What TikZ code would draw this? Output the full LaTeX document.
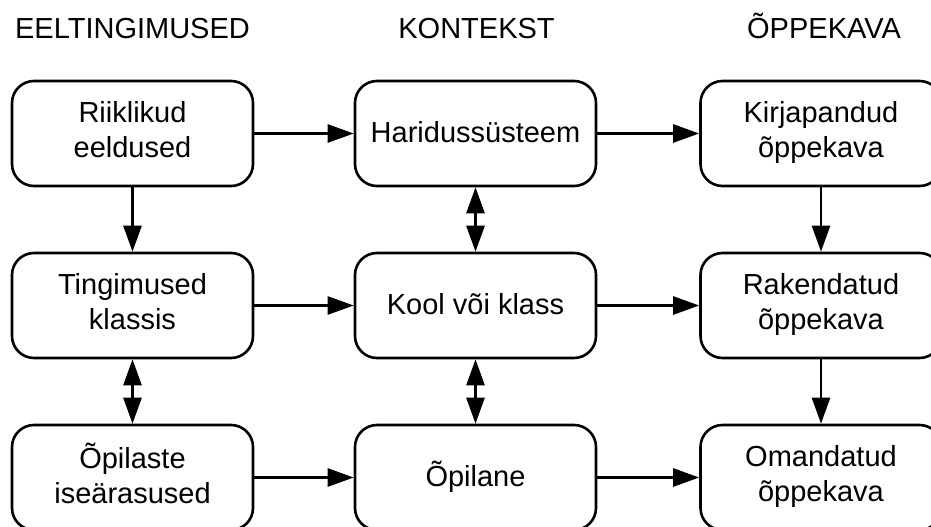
\documentclass[tikz,border=0pt]{standalone}
\usepackage{fontspec}
\setmainfont{Liberation Sans}
\usetikzlibrary{arrows.meta}
\def\tip{Triangle[length=26pt,width=18pt]}
\def\topstrut{\rule{0pt}{26.5pt}}
\def\botstrut{\rule[-8.5pt]{0pt}{8.5pt}}
\tikzset{
  stage/.style={draw,line width=2.6pt,rounded corners=22pt,minimum width=241pt,minimum height=105pt,align=center,
    font=\fontsize{29}{35}\selectfont,execute at begin node=\topstrut,execute at end node=\botstrut},
  heading/.style={anchor=base,font=\fontsize{29}{35}\selectfont},
  flow/.style={line width=2.6pt,-{\tip}},
  mutual/.style={line width=2.6pt,{\tip}-{\tip}}
}
\begin{document}
\begin{tikzpicture}[x=1pt,y=1pt,node distance=172pt]
  \useasboundingbox (0,0) rectangle (931,-527);
  % column headings
  \node[heading] (hdrpre) at (132.5,-38) {EELTINGIMUSED};
  \node[heading] (hdrctx) at (476.5,-38) {KONTEKST};
  \node[heading] (hdrcur) at (824,-38) {ÕPPEKAVA};
  % left column
  \node[stage] (riik) at (132.5,-133.5) {Riiklikud\\eeldused};
  \node[stage] (ting) [below of=riik] {Tingimused\\klassis};
  \node[stage] (opil) [below of=ting] {Õpilaste\\iseärasused};
  % middle column
  \node[stage] (harid) [right of=riik,xshift=171pt] {Haridussüsteem};
  \node[stage] (kool) [below of=harid] {Kool või klass};
  \node[stage] (opilane) [below of=kool] {Õpilane};
  % right column
  \node[stage] (kirj) [right of=harid,xshift=173.5pt] {Kirjapandud\\õppekava};
  \node[stage] (rak) [below of=kirj] {Rakendatud\\õppekava};
  \node[stage] (oman) [below of=rak] {Omandatud\\õppekava};
  \foreach \a/\b in {riik/harid,harid/kirj,ting/kool,kool/rak,opil/opilane,opilane/oman,riik/ting,kirj/rak,rak/oman}
    \draw[flow] (\a) -- (\b);
  \foreach \a/\b in {ting/opil,harid/kool,kool/opilane}
    \draw[mutual] (\a) -- (\b);
\end{tikzpicture}
\end{document}
